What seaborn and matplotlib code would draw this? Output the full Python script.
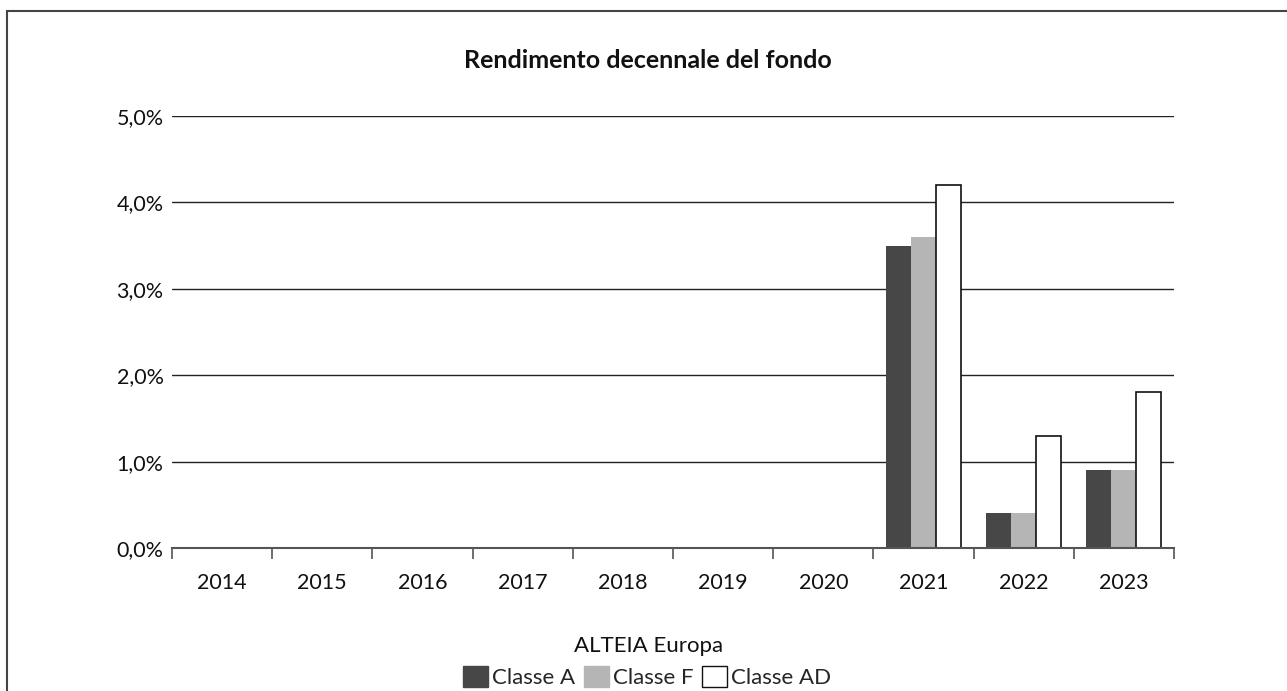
import pandas as pd
import matplotlib
matplotlib.use("Agg")
import matplotlib.pyplot as plt
import seaborn as sns
from matplotlib.patches import Rectangle
from matplotlib.ticker import FuncFormatter, FixedLocator

# data
years = ["2014", "2015", "2016", "2017", "2018", "2019", "2020", "2021", "2022", "2023"]
classe_a = [0, 0, 0, 0, 0, 0, 0, 3.5, 0.4, 0.9]
classe_f = [0, 0, 0, 0, 0, 0, 0, 3.6, 0.4, 0.9]
classe_ad = [0, 0, 0, 0, 0, 0, 0, 4.2, 1.3, 1.8]
series_names = ["Classe A", "Classe F", "Classe AD"]
colors = ["#474747", "#b5b5b5", "#ffffff"]

df = pd.DataFrame({
    "anno": years * 3,
    "classe": [series_names[0]] * 10 + [series_names[1]] * 10 + [series_names[2]] * 10,
    "rendimento": classe_a + classe_f + classe_ad,
})

sns.set_theme(style="white")
plt.rcParams["font.family"] = ["Lato", "DejaVu Sans"]

fig = plt.figure(figsize=(12.87, 6.91), dpi=100)
ax = fig.add_axes([172 / 1287, 143 / 691, 1002 / 1287, 432 / 691])

sns.barplot(data=df, x="anno", y="rendimento", hue="classe", palette=colors,
            width=0.75, saturation=1, linewidth=0, ax=ax, legend=False)

# only the white series gets an outline
n = len(years)
for i, bar in enumerate(ax.patches[:3 * n]):
    if i >= 2 * n and bar.get_height() > 0:
        bar.set_edgecolor("#111111")
        bar.set_linewidth(1.2)

ax.set_xlim(-0.5, n - 0.5)
ax.set_ylim(0, 5)
ax.set_yticks([0, 1, 2, 3, 4, 5])
ax.yaxis.set_major_formatter(FuncFormatter(lambda v, p: f"{v:.1f}%".replace(".", ",")))
ax.grid(axis="y", color="#222222", linewidth=1)
ax.set_axisbelow(True)
ax.set_xlabel("")
ax.set_ylabel("")
for s in ["left", "right", "top"]:
    ax.spines[s].set_visible(False)
ax.spines["bottom"].set_color("#555555")
ax.spines["bottom"].set_linewidth(1.5)

# category ticks at group boundaries, labels at centers
ax.xaxis.set_major_locator(FixedLocator([i - 0.5 for i in range(n + 1)]))
ax.xaxis.set_major_formatter(FuncFormatter(lambda v, p: ""))
ax.xaxis.set_minor_locator(FixedLocator(list(range(n))))
ax.set_xticklabels(years, minor=True)
ax.tick_params(axis="x", which="major", direction="out", length=8, width=1.2, color="#555555", bottom=True)
ax.tick_params(axis="x", which="minor", length=0, pad=18, labelsize=15.5, labelcolor="#111111")
ax.tick_params(axis="y", length=0, pad=6, labelsize=15.5, labelcolor="#111111")

fig.text(0.5035, 1 - 60 / 691, "Rendimento decennale del fondo", ha="center", va="center",
         fontsize=18, fontweight="bold", color="#111111")

# legend: title as separate text, entries in one row below
fig.text(0.504, 1 - 646 / 691, "ALTEIA Europa", ha="center", va="center",
         fontsize=16, color="#111111")
handles = [Rectangle((0, 0), 1, 1, facecolor=c, edgecolor=("#111111" if c == "#ffffff" else c), linewidth=1)
           for c in colors]
fig.legend(handles, series_names, loc="center",
           bbox_to_anchor=(0.503, 1 - 677 / 691), ncol=3, frameon=False,
           fontsize=16, handlelength=1.1, handleheight=1.1,
           handletextpad=0.2, columnspacing=0.4, borderpad=0, labelspacing=0)

# outer frame (open on right and bottom)
fig.patches.append(Rectangle((7 / 1287, -0.5), 2, 1.5 - 11 / 691, transform=fig.transFigure,
                             fill=False, edgecolor="#444444", linewidth=1.5))

fig.savefig("out.png", dpi=100)
